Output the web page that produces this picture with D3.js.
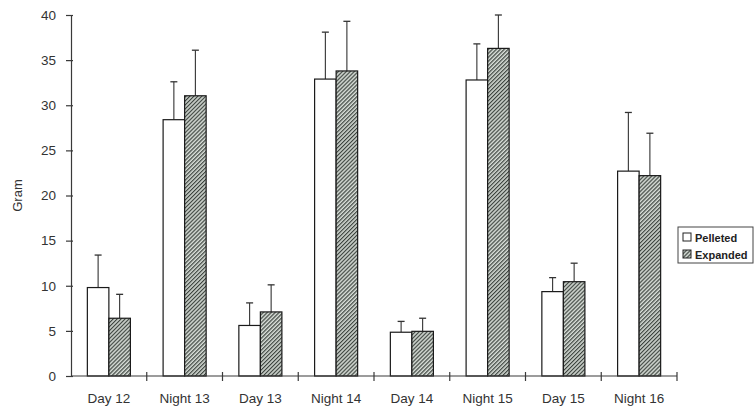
<!DOCTYPE html>
<html>
<head>
<meta charset="utf-8">
<script src="https://cdn.jsdelivr.net/npm/d3@7"></script>
<style>
  body { margin: 0; background: #fff; }
  svg { display: block; font-family: "Liberation Sans", Arial, sans-serif; }
</style>
</head>
<body>
<svg id="chart" width="755" height="417"></svg>
<script>
// Feed intake per period (grams), mean and upper error bar
const categories = ["Day 12", "Night 13", "Day 13", "Night 14", "Day 14", "Night 15", "Day 15", "Night 16"];
const seriesNames = ["Pelleted", "Expanded"];
const pelleted    = [9.8, 28.4, 5.6, 32.9, 4.85, 32.8, 9.35, 22.7];
const pelletedErr = [3.6, 4.2, 2.5, 5.2, 1.2, 4.0, 1.55, 6.5];
const expanded    = [6.4, 31.05, 7.1, 33.8, 4.95, 36.3, 10.45, 22.2];
const expandedErr = [2.65, 5.05, 3.0, 5.5, 1.45, 3.7, 2.05, 4.7];
const yTicks = [0, 5, 10, 15, 20, 25, 30, 35, 40];

const svg = d3.select("#chart");
const margin = { left: 71, right: 78, top: 15, bottom: 41 };
const W = 755, H = 417;

const x = d3.scaleBand().domain(categories).range([margin.left, W - margin.right]);
const xs = d3.scaleBand().domain(seriesNames).range([0, x.bandwidth()]).paddingInner(0).paddingOuter(0.76);
const y = d3.scaleLinear().domain([0, 40]).range([H - margin.bottom, margin.top]);

// diagonal hatch for the expanded series
const defs = svg.append("defs");
const pat = defs.append("pattern")
  .attr("id", "hatch").attr("patternUnits", "userSpaceOnUse")
  .attr("width", 2.8).attr("height", 2.8)
  .attr("patternTransform", "rotate(45)");
pat.append("rect").attr("width", 2.8).attr("height", 2.8).attr("fill", "#d6dcd6");
pat.append("rect").attr("x", 0).attr("width", 1.2).attr("height", 2.8).attr("fill", "#3c433e");

const data = categories.map((c, i) => ([
  { cat: c, s: "Pelleted", v: pelleted[i], e: pelletedErr[i] },
  { cat: c, s: "Expanded", v: expanded[i], e: expandedErr[i] }
]));

const groups = svg.append("g").selectAll("g").data(data).join("g")
  .attr("transform", d => `translate(${x(d[0].cat)},0)`);

// error bars (upper only), drawn behind bars
groups.selectAll("g.err").data(d => d).join("g").attr("class", "err")
  .each(function(d) {
    const g = d3.select(this);
    const cx = xs(d.s) + xs.bandwidth() / 2;
    g.append("line").attr("x1", cx).attr("x2", cx)
      .attr("y1", y(d.v)).attr("y2", y(d.v + d.e))
      .attr("stroke", "#333").attr("stroke-width", 1.1);
    g.append("line").attr("x1", cx - 3.5).attr("x2", cx + 3.5)
      .attr("y1", y(d.v + d.e)).attr("y2", y(d.v + d.e))
      .attr("stroke", "#333").attr("stroke-width", 1.3);
  });

groups.selectAll("rect").data(d => d).join("rect")
  .attr("x", d => xs(d.s))
  .attr("width", xs.bandwidth())
  .attr("y", d => y(d.v))
  .attr("height", d => y(0) - y(d.v))
  .attr("fill", d => d.s === "Pelleted" ? "#fff" : "url(#hatch)")
  .attr("stroke", "#1a1a1a").attr("stroke-width", 1.2);

// y axis
const yAxis = svg.append("g").attr("transform", `translate(${margin.left},0)`)
  .call(d3.axisLeft(y).tickValues(yTicks).tickSize(5).tickSizeOuter(0).tickPadding(10));
yAxis.select(".domain").attr("stroke", "#3a3a3a").attr("stroke-width", 1.2);
yAxis.selectAll(".tick line").attr("stroke", "#3a3a3a").attr("stroke-width", 1.2).attr("x2", 2).attr("x1", -5);
yAxis.selectAll(".tick text").attr("font-size", 13.5).attr("fill", "#333");

// x axis with ticks at category boundaries
const xAxis = svg.append("g").attr("transform", `translate(0,${y(0)})`);
xAxis.append("line").attr("x1", margin.left).attr("x2", W - margin.right)
  .attr("stroke", "#3a3a3a").attr("stroke-width", 1.2);
const bounds = categories.map(c => x(c) + x.bandwidth());
xAxis.selectAll("line.tk").data(bounds).join("line").attr("class", "tk")
  .attr("x1", d => d).attr("x2", d => d).attr("y1", -4).attr("y2", 5)
  .attr("stroke", "#3a3a3a").attr("stroke-width", 1.2);
xAxis.selectAll("text").data(categories).join("text")
  .attr("x", d => x(d) + x.bandwidth() / 2).attr("y", 27)
  .attr("text-anchor", "middle").attr("font-size", 13.5).attr("fill", "#333")
  .text(d => d);

// y axis title
svg.append("text")
  .attr("transform", `translate(22,${y(20)}) rotate(-90)`)
  .attr("text-anchor", "middle").attr("font-size", 13).attr("fill", "#333")
  .text("Gram");

// legend
const lg = svg.append("g").attr("transform", "translate(678,227)");
lg.append("rect").attr("width", 75).attr("height", 36)
  .attr("fill", "#fff").attr("stroke", "#444").attr("stroke-width", 1);
seriesNames.forEach((s, i) => {
  const row = lg.append("g").attr("transform", `translate(5,${5 + i * 17})`);
  row.append("rect").attr("x", 0).attr("y", 1).attr("width", 8).attr("height", 8)
    .attr("fill", s === "Pelleted" ? "#fff" : "url(#hatch)")
    .attr("stroke", "#222").attr("stroke-width", 1);
  row.append("text").attr("x", 12).attr("y", 9.5)
    .attr("font-size", 11).attr("font-weight", "bold").attr("fill", "#222").text(s);
});
</script>
</body>
</html>
